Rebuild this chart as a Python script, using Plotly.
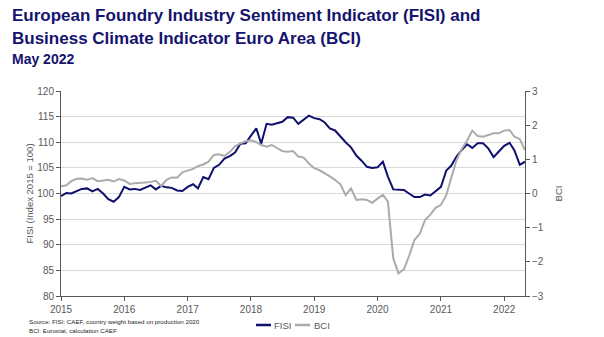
import pandas as pd
import plotly.graph_objects as go

# Monthly observations, January 2015 to May 2022
months = pd.date_range("2015-01-01", "2022-05-01", freq="MS")

fisi = [
    99.5, 100.1, 100.0, 100.5, 100.9, 101.0, 100.4, 100.9, 100.0, 98.9, 98.4, 99.3,      # 2015
    101.3, 100.8, 100.9, 100.7, 101.1, 101.6, 100.8, 101.5, 101.2, 101.1, 100.6, 100.5,  # 2016
    101.3, 101.8, 101.0, 103.2, 102.8, 105.0, 105.6, 106.8, 107.3, 108.0, 109.7, 109.8,  # 2017
    111.3, 112.7, 109.7, 113.6, 113.4, 113.7, 114.0, 114.9, 114.8, 113.6, 114.5, 115.2,  # 2018
    114.7, 114.5, 113.9, 112.7, 112.3, 111.1, 110.0, 109.0, 107.4, 106.4, 105.2, 105.0,  # 2019
    105.1, 106.2, 103.3, 100.8, 100.7, 100.7, 100.0, 99.3, 99.3, 99.8, 99.6, 100.4,      # 2020
    101.3, 104.5, 105.4, 107.2, 108.5, 109.6, 108.9, 109.8, 109.8, 108.8, 107.1, 108.2,  # 2021
    109.3, 109.9, 108.4, 105.6, 106.2,                                                   # 2022
]

bci = [
    0.21, 0.24, 0.36, 0.43, 0.44, 0.40, 0.45, 0.36, 0.38, 0.40, 0.35, 0.42,        # 2015
    0.38, 0.28, 0.30, 0.30, 0.32, 0.34, 0.37, 0.22, 0.40, 0.47, 0.46, 0.62,        # 2016
    0.66, 0.72, 0.80, 0.85, 0.93, 1.13, 1.15, 1.10, 1.22, 1.38, 1.47, 1.53,        # 2017
    1.56, 1.50, 1.42, 1.37, 1.42, 1.33, 1.24, 1.22, 1.24, 1.08, 1.05, 0.88,        # 2018
    0.74, 0.68, 0.60, 0.50, 0.40, 0.27, -0.05, 0.15, -0.19, -0.17, -0.19, -0.27,   # 2019
    -0.15, -0.04, -0.24, -1.90, -2.34, -2.22, -1.83, -1.36, -1.18, -0.78, -0.62, -0.42,  # 2020
    -0.33, -0.05, 0.45, 0.98, 1.30, 1.55, 1.84, 1.68, 1.66, 1.71, 1.76, 1.76,      # 2021
    1.84, 1.86, 1.66, 1.59, 1.27,                                                  # 2022
]

years = list(range(2015, 2023))
year_ticks = [f"{y}-01-01" for y in years]
year_labels = [str(y) for y in years]

NAVY = "#0f0f6e"
GREY = "#ababab"
AXIS = "#595959"
TEXT = "#595959"
FONT = "Liberation Sans, Arial, sans-serif"

fig = go.Figure()
# BCI first so the FISI line sits on top
fig.add_trace(go.Scatter(x=months, y=bci, name="BCI", mode="lines",
                         line=dict(color=GREY, width=2), yaxis="y2"))
fig.add_trace(go.Scatter(x=months, y=fisi, name="FISI", mode="lines",
                         line=dict(color=NAVY, width=2), yaxis="y"))

fig.update_layout(
    width=604, height=337,
    margin=dict(l=61, r=79, t=91, b=41),
    paper_bgcolor="white", plot_bgcolor="white",
    showlegend=False,
    font=dict(family=FONT, size=10, color=TEXT),
    xaxis=dict(
        type="date", range=["2015-01-01", "2022-05-01"],
        tickvals=year_ticks, ticktext=year_labels,
        showgrid=False, zeroline=False,
        showline=True, linecolor=AXIS, linewidth=1,
        ticks="outside", ticklen=4, tickcolor=AXIS,
        tickfont=dict(size=10, color=TEXT),
    ),
    yaxis=dict(
        range=[80, 120], dtick=5, tick0=80,
        showgrid=True, gridcolor="#d9d9d9", gridwidth=1,
        zeroline=False, showline=True, linecolor=AXIS, linewidth=1,
        ticks="outside", ticklen=4, tickcolor=AXIS,
        tickfont=dict(size=10, color=TEXT),
        title=dict(text="FISI (Index 2015 = 100)", font=dict(size=9.5, color=TEXT), standoff=1),
    ),
    yaxis2=dict(
        range=[-3, 3], dtick=1, overlaying="y", side="right",
        showgrid=False, zeroline=False,
        showline=True, linecolor=AXIS, linewidth=1,
        ticks="outside", ticklen=4, tickcolor=AXIS,
        tickfont=dict(size=10, color=TEXT),
        title=dict(text="BCI", font=dict(size=9.5, color=TEXT), standoff=12),
    ),
)

def py(pix):
    # pixel row -> paper y
    return (296 - pix) / 205

def px(pix):
    # pixel column -> paper x
    return (pix - 61) / 464

annotations = [
    dict(text="<b>European Foundry Industry Sentiment Indicator (FISI) and</b>",
         x=px(10), y=py(16), font=dict(size=17, color="#14146e")),
    dict(text="<b>Business Climate Indicator Euro Area (BCI)</b>",
         x=px(10), y=py(38), font=dict(size=17, color="#14146e")),
    dict(text="<b>May 2022</b>",
         x=px(10), y=py(59), font=dict(size=14, color="#14146e")),
    dict(text="Source: FISI: CAEF, country weight based on production 2020",
         x=px(27), y=py(321), font=dict(size=6.2, color="#262626")),
    dict(text="BCI: Eurostat, calculation CAEF",
         x=px(27), y=py(330), font=dict(size=6.2, color="#262626")),
    dict(text="FISI", x=px(272), y=py(325), font=dict(size=9.5, color=TEXT)),
    dict(text="BCI", x=px(312), y=py(325), font=dict(size=9.5, color=TEXT)),
]
for a in annotations:
    fig.add_annotation(xref="paper", yref="paper", xanchor="left", yanchor="middle",
                       showarrow=False, **a)

# Legend keys
fig.add_shape(type="line", xref="paper", yref="paper",
              x0=px(256), x1=px(271), y0=py(325), y1=py(325),
              line=dict(color=NAVY, width=2.5))
fig.add_shape(type="line", xref="paper", yref="paper",
              x0=px(295), x1=px(310), y0=py(325), y1=py(325),
              line=dict(color=GREY, width=2.5))

fig.write_html("out.html")
